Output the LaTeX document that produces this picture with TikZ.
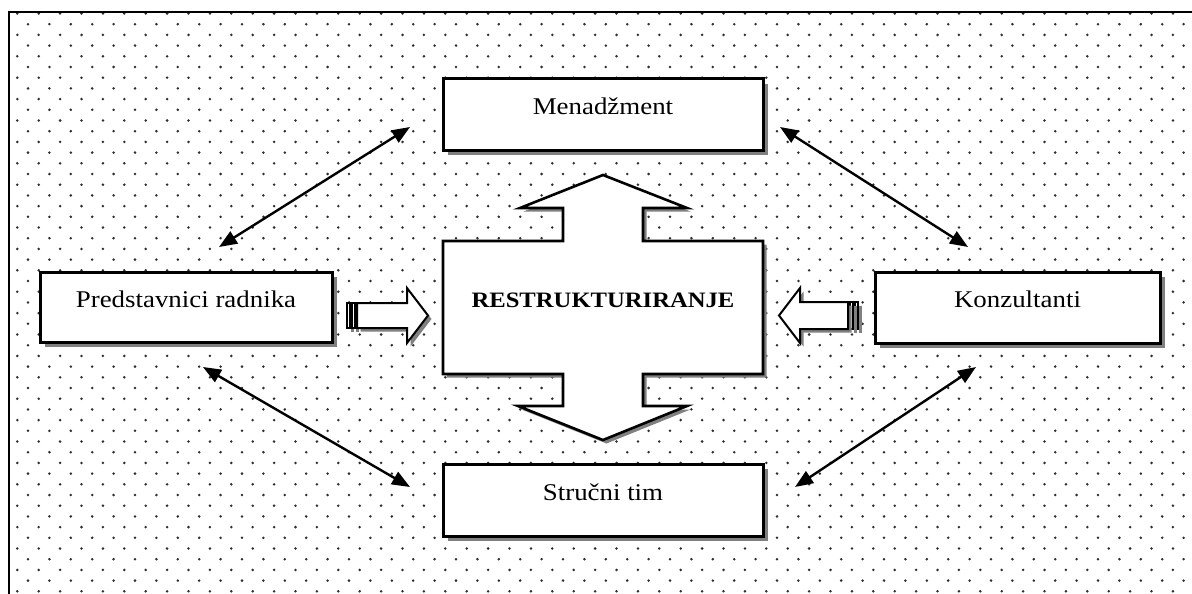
\documentclass[tikz,border=0pt]{standalone}
\usepackage{fontspec}
\setmainfont{Liberation Serif}[FakeStretch=1.12]
\usetikzlibrary{arrows.meta,shadows}
\definecolor{dotc}{RGB}{45,45,45}
\definecolor{shad}{RGB}{128,128,128}
\begin{document}
\begin{tikzpicture}[x=1pt,y=-1pt,
  box/.style={draw, line width=3pt, fill=white, inner sep=0pt,
    font=\fontsize{24}{28}\selectfont, text height=8pt, text depth=8pt,
    drop shadow={shadow xshift=5pt, shadow yshift=-5pt, fill=shad, opacity=1}},
  blockshape/.style={draw, line width=2.6pt, fill=white, line join=miter,
    drop shadow={shadow xshift=3.5pt, shadow yshift=-3.5pt, fill=shad, opacity=1}},
  dbl/.style={line width=2.4pt, {Triangle[length=18pt,width=14pt]}-{Triangle[length=18pt,width=14pt]}},
  bigtxt/.style={font=\fontsize{22}{26}\selectfont\bfseries, inner sep=0pt, text height=8pt, text depth=8pt}]
\useasboundingbox (0,0) rectangle (1192,594);
% dotted background
\foreach \k in {0,...,54}{
  \foreach \j in {0,...,55}{
    \fill[dotc] ({17.3+10.7*mod(\k,2)+21.4*\j},{13.5+10.7*\k}) circle (1.4);
  }
}
% frame
\draw[line width=2.2pt] (9,594) -- (9,12) -- (1192,12);
% boxes
\node[box, minimum width=320pt, minimum height=71pt] (men) at (603,114.5) {Menadžment};
\node[box, minimum width=320pt, minimum height=72pt] (str) at (603,500) {Stručni tim};
\node[box, minimum width=292pt, minimum height=70pt] (pred) at (186,307) {Predstavnici radnika};
\node[box, minimum width=285pt, minimum height=71pt] (konz) at (1017.5,307.5) {Konzultanti};
% central double block arrow
\draw[blockshape] (603,175) -- (687,208) -- (643,208) -- (643,241) -- (763,241) -- (763,374)
  -- (643,374) -- (643,406) -- (687,406) -- (603,440) -- (518,406) -- (563,406)
  -- (563,374) -- (443,374) -- (443,241) -- (563,241) -- (563,208) -- (520,208) -- cycle;
\node[bigtxt] (restr) at (603,307.5) {RESTRUKTURIRANJE};
% striped arrows
\draw[blockshape, line width=2pt] (347,303) rectangle (350,328);
\draw[blockshape, line width=2pt] (352,303) rectangle (355,328);
\draw[blockshape, line width=2pt] (357,303) -- (407,303) -- (407,288) -- (428,315.5) -- (407,343) -- (407,328) -- (357,328) -- cycle;
\draw[blockshape, line width=2pt] (855,302) rectangle (858,329);
\draw[blockshape, line width=2pt] (850,302) rectangle (853,329);
\draw[blockshape, line width=2pt] (848,302) -- (800,302) -- (800,288) -- (779,315.5) -- (800,343) -- (800,329) -- (848,329) -- cycle;
% double arrows
\coordinate (menL) at (410,127);
\coordinate (predT) at (219,247);
\coordinate (predB) at (203,367);
\coordinate (strL) at (410,487);
\coordinate (menR) at (780,127);
\coordinate (konzT) at (968,247);
\coordinate (konzB) at (976,367);
\coordinate (strR) at (795,487);
\draw[dbl] (predT) -- (menL);
\draw[dbl] (predB) -- (strL);
\draw[dbl] (menR) -- (konzT);
\draw[dbl] (konzB) -- (strR);
\end{tikzpicture}
\end{document}
